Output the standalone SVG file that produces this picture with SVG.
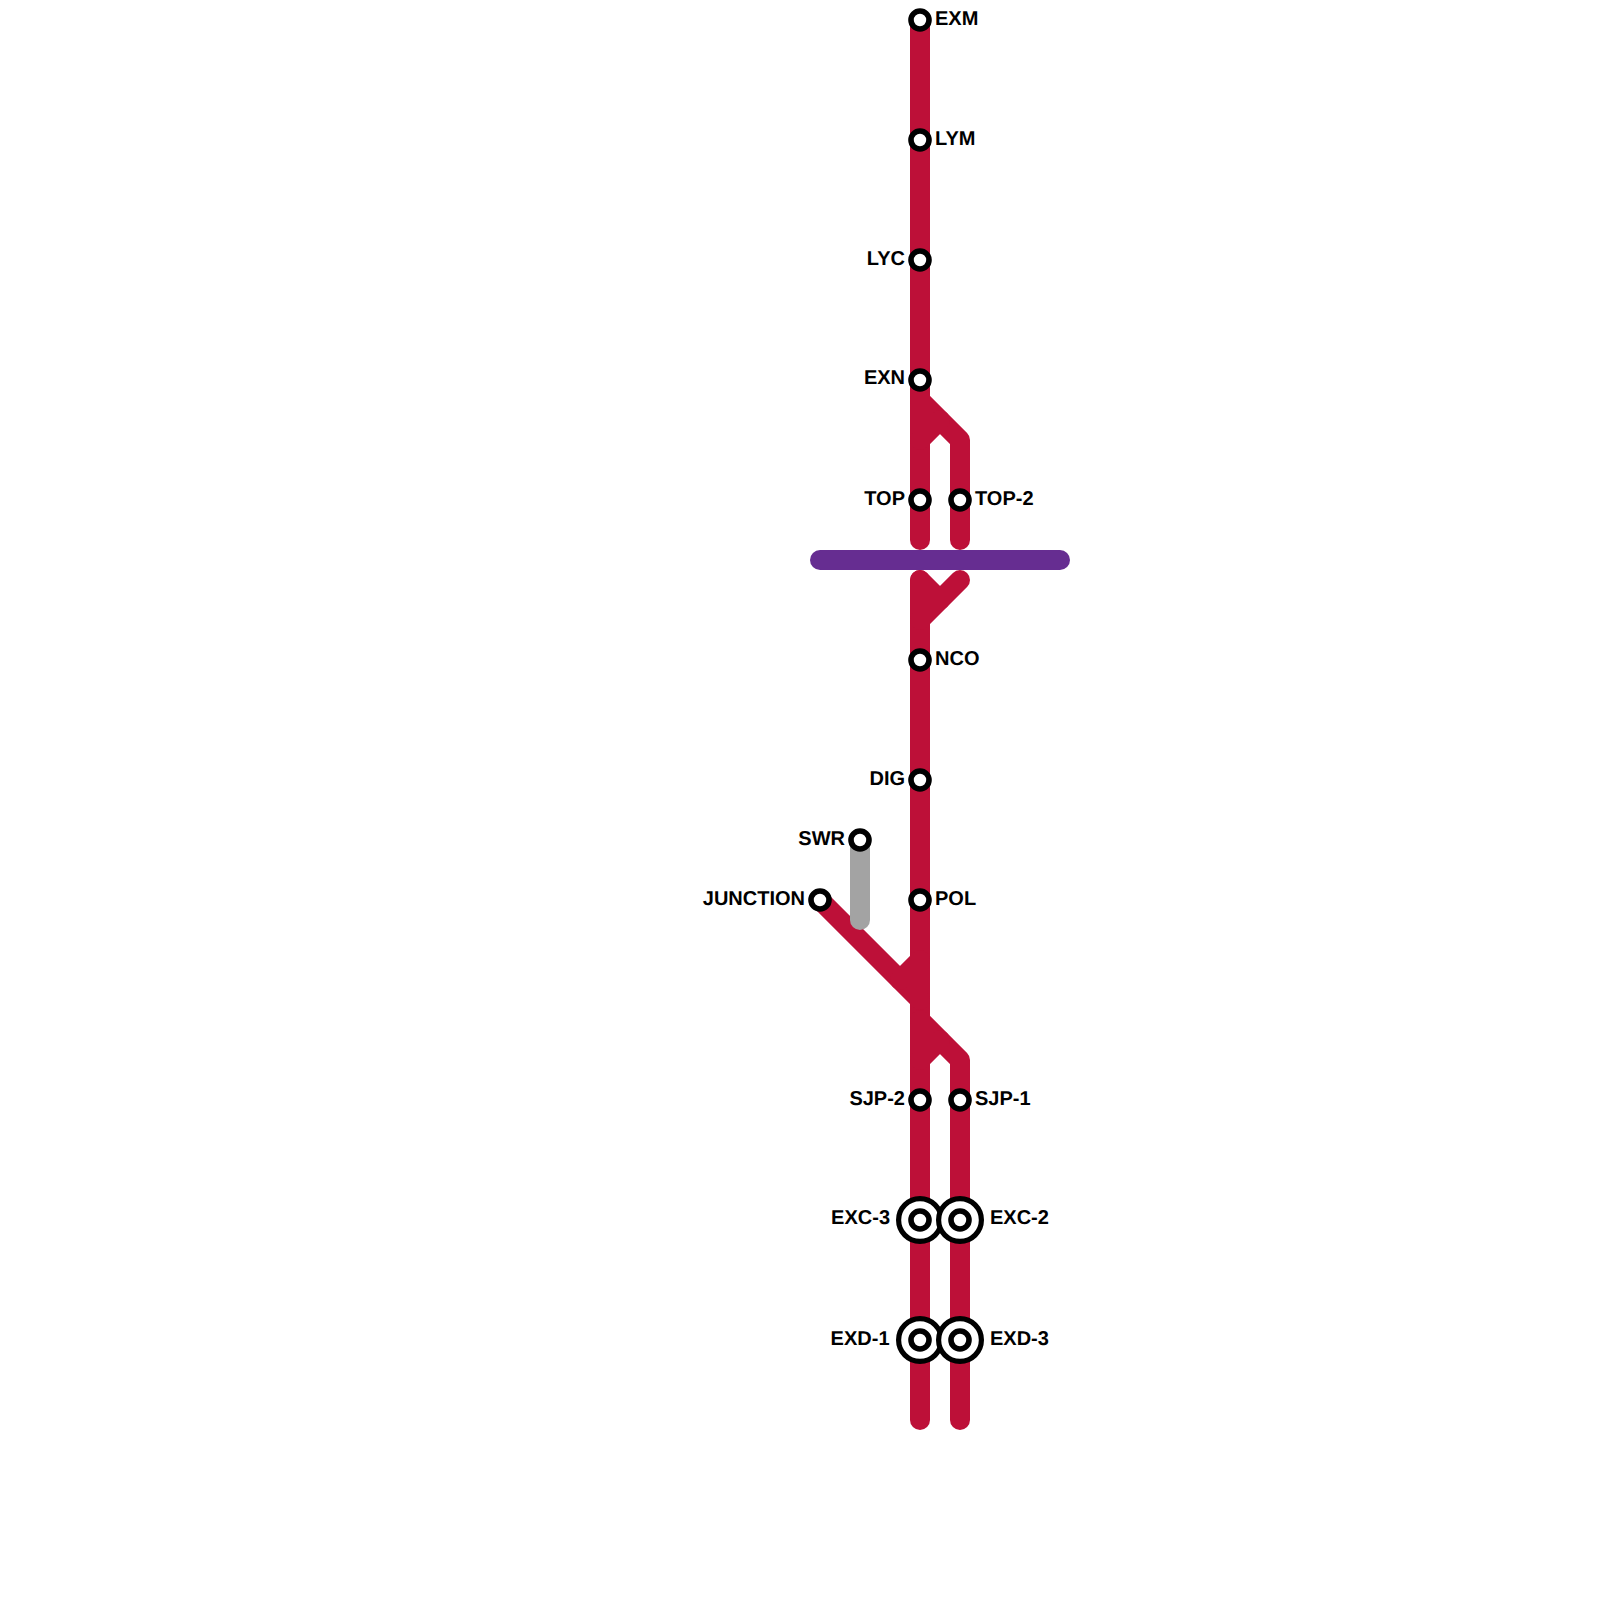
<svg xmlns="http://www.w3.org/2000/svg" width="1600" height="1600" viewBox="0 0 1600 1600">
<style>
.l{fill:none;stroke-width:20;stroke-linecap:round;stroke-linejoin:round}
.r{stroke:#BD1038}
.g{stroke:#A3A3A3}
.p{stroke:#662D91}
.s{fill:#fff;stroke:#000;stroke-width:5.6}
.o{fill:#fff;stroke:#000;stroke-width:5.2}
text{font-family:"Liberation Sans",Arial,sans-serif;font-weight:700;font-size:20px;fill:#000;text-rendering:geometricPrecision}
.e{text-anchor:end}
</style>
<rect width="1600" height="1600" fill="#fff"/>
<g id="connectors">
<path class="l r" d="M920 20V540"/>
<path class="l r" d="M920 400L960 440V540"/>
<path class="l r" d="M920 440L940 420"/>
<path class="l r" d="M920 580V1420"/>
<path class="l r" d="M920 580L940 600"/>
<path class="l r" d="M960 580L920 620"/>
<path class="l r" d="M820 900L920 1000"/>
<path class="l r" d="M920 960L900 980"/>
<path class="l r" d="M920 1020L960 1060V1420"/>
<path class="l r" d="M920 1060L940 1040"/>
<path class="l g" d="M860 840V920"/>
<path class="l p" d="M820 560H1060"/>
</g>
<g id="EXM"><circle class="s" cx="920" cy="20" r="9"/><text x="935" y="24.5">EXM</text></g>
<g id="LYM"><circle class="s" cx="920" cy="140" r="9"/><text x="935" y="144.5">LYM</text></g>
<g id="LYC"><circle class="s" cx="920" cy="260" r="9"/><text class="e" x="905" y="264.5">LYC</text></g>
<g id="EXN"><circle class="s" cx="920" cy="380" r="9"/><text class="e" x="905" y="384">EXN</text></g>
<g id="TOP"><circle class="s" cx="920" cy="500" r="9"/><text class="e" x="905" y="504.5">TOP</text></g>
<g id="TOP-2"><circle class="s" cx="960" cy="500" r="9"/><text x="975" y="504.5">TOP-2</text></g>
<g id="NCO"><circle class="s" cx="920" cy="660" r="9"/><text x="935" y="664.5">NCO</text></g>
<g id="DIG"><circle class="s" cx="920" cy="780" r="9"/><text class="e" x="905" y="784.5">DIG</text></g>
<g id="SWR"><circle class="s" cx="860" cy="840" r="9"/><text class="e" x="845" y="844.5">SWR</text></g>
<g id="JUNCTION"><circle class="s" cx="820" cy="900" r="9"/><text class="e" x="805" y="904.5">JUNCTION</text></g>
<g id="POL"><circle class="s" cx="920" cy="900" r="9"/><text x="935" y="904.5">POL</text></g>
<g id="SJP-2"><circle class="s" cx="920" cy="1100" r="9"/><text class="e" x="905" y="1104.5">SJP-2</text></g>
<g id="SJP-1"><circle class="s" cx="960" cy="1100" r="9"/><text x="975" y="1104.5">SJP-1</text></g>
<g id="EXC-3"><circle class="o" cx="920" cy="1220" r="21.4"/><circle class="s" cx="920" cy="1220" r="9"/><text class="e" x="890" y="1224">EXC-3</text></g>
<g id="EXC-2"><circle class="o" cx="960" cy="1220" r="21.4"/><circle class="s" cx="960" cy="1220" r="9"/><text x="990" y="1224">EXC-2</text></g>
<g id="EXD-1"><circle class="o" cx="920" cy="1340" r="21.4"/><circle class="s" cx="920" cy="1340" r="9"/><text class="e" x="889.5" y="1344.5">EXD-1</text></g>
<g id="EXD-3"><circle class="o" cx="960" cy="1340" r="21.4"/><circle class="s" cx="960" cy="1340" r="9"/><text x="990" y="1344.5">EXD-3</text></g>
</svg>
